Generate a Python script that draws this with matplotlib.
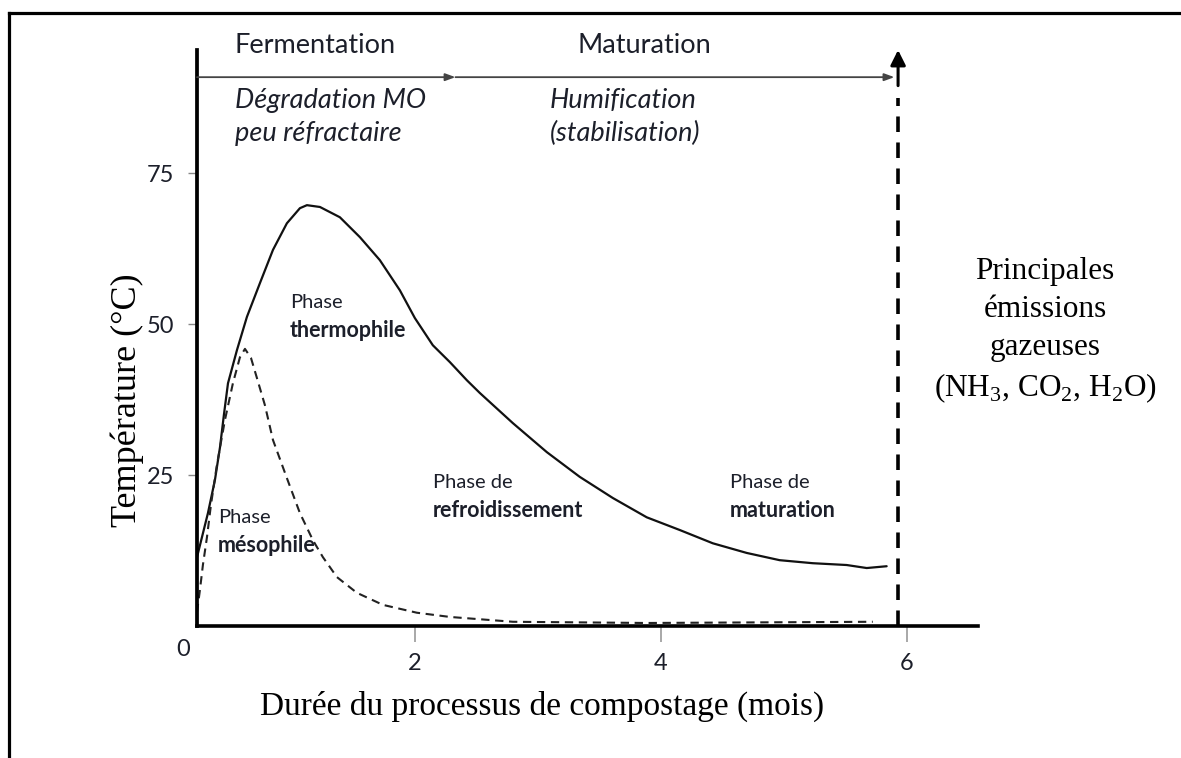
import numpy as np
import matplotlib
matplotlib.use("Agg")
import matplotlib.pyplot as plt
from matplotlib.lines import Line2D

plt.rcParams['mathtext.fontset'] = 'custom'
plt.rcParams['mathtext.rm'] = 'Liberation Serif'

# courbe pleine : phase thermophile -> maturation (mois, degC)
temp_mois = [0.228, 0.317, 0.374, 0.415, 0.447, 0.480, 0.553, 0.634, 0.740, 0.846,
             0.959, 1.065, 1.122, 1.228, 1.390, 1.553, 1.715, 1.878, 2.000, 2.146,
             2.285, 2.423, 2.528, 2.797, 3.073, 3.341, 3.610, 3.886, 4.154, 4.423,
             4.699, 4.967, 5.236, 5.512, 5.675, 5.837]
temp_val = [11.4, 18.7, 24.2, 29.6, 35.0, 40.2, 45.7, 51.2, 56.8, 62.3,
            66.7, 69.2, 69.7, 69.4, 67.7, 64.4, 60.6, 55.6, 51.0, 46.5,
            43.7, 40.7, 38.6, 33.6, 28.8, 24.7, 21.2, 18.0, 15.9, 13.7,
            12.1, 10.9, 10.4, 10.1, 9.6, 9.9]

# courbe en tirets : phase mesophile
meso_mois = [0.228, 0.252, 0.276, 0.309, 0.341, 0.390, 0.455, 0.520, 0.577, 0.618,
             0.667, 0.715, 0.780, 0.846, 0.959, 1.065, 1.171, 1.252, 1.366, 1.528,
             1.740, 2.016, 2.285, 2.797, 3.886, 5.724]
meso_val = [2.3, 6.0, 10.1, 14.7, 20.0, 26.7, 34.1, 40.2, 44.5, 45.9,
            44.4, 41.1, 36.6, 30.8, 24.5, 18.7, 14.2, 11.4, 8.1, 5.5,
            3.5, 2.2, 1.5, 0.7, 0.5, 0.7]

xticks = [2, 4, 6]
yticks = [25, 50, 75]

W, H = 1181, 758
SANS = 'Lato'
SERIF = 'Liberation Serif'
TXT = '#1c1f2a'


def fx(px):
    return px / W


def fy(py):
    return 1 - py / H


fig = plt.figure(figsize=(W / 100, H / 100), dpi=100)
ax = fig.add_axes([fx(197), fy(626), (978 - 197) / W, (626 - 50) / H])
ax.set_xlim(0.228, 6.58)
ax.set_ylim(0, 95.4)

ax.plot(temp_mois, temp_val, color='#111111', lw=1.6, solid_capstyle='round',
        solid_joinstyle='round')
ax.plot(meso_mois, meso_val, color='#222222', lw=1.5, dashes=(4, 2.7))

# fin du compostage : fleche verticale en tirets
ax.plot([5.93, 5.93], [0, 87.5], color='black', lw=2.6, dashes=(4.3, 2.9))
ax.annotate('', xy=(5.93, 95.4), xytext=(5.93, 89.5),
            arrowprops=dict(arrowstyle='-|>,head_length=0.9,head_width=0.45',
                            color='black', lw=2.2, shrinkA=0, shrinkB=0))

# fleches horizontales Fermentation / Maturation
ax.annotate('', xy=(2.33, 90.9), xytext=(0.228, 90.9),
            arrowprops=dict(arrowstyle='-|>,head_length=0.6,head_width=0.22',
                            color='#444444', lw=1.3, shrinkA=0, shrinkB=0))
ax.annotate('', xy=(5.90, 90.9), xytext=(2.33, 90.9),
            arrowprops=dict(arrowstyle='-|>,head_length=0.6,head_width=0.22',
                            color='#444444', lw=1.3, shrinkA=0, shrinkB=0))

for s in ['top', 'right']:
    ax.spines[s].set_visible(False)
ax.spines['left'].set_linewidth(2.7)
ax.spines['bottom'].set_linewidth(2.6)

ax.set_xticks(xticks)
ax.set_yticks(yticks)
ax.tick_params(axis='x', length=11.5, width=1.2, color='#999999', pad=8,
               labelsize=17, labelcolor=TXT)
ax.tick_params(axis='y', length=6.5, width=1.0, color='#888888', pad=10,
               labelsize=17, labelcolor=TXT)
for lab in ax.get_xticklabels() + ax.get_yticklabels():
    lab.set_family(SANS)
ax.text(0.114, -3.9, '0', ha='center', va='center', fontsize=17,
        family=SANS, color=TXT, clip_on=False)

# titres du haut
ax.text(0.537, 96.2, 'Fermentation', fontsize=19.5, family=SANS, color=TXT,
        va='center', clip_on=False)
ax.text(3.325, 96.2, 'Maturation', fontsize=19.5, family=SANS, color=TXT,
        va='center', clip_on=False)
ax.text(0.537, 87.1, 'Dégradation MO', fontsize=19.5, family=SANS, style='italic',
        color=TXT, va='center')
ax.text(0.537, 81.6, 'peu réfractaire', fontsize=19.5, family=SANS, style='italic',
        color=TXT, va='center')
ax.text(3.10, 87.1, 'Humification', fontsize=19.5, family=SANS, style='italic',
        color=TXT, va='center')
ax.text(3.10, 81.6, '(stabilisation)', fontsize=19.5, family=SANS, style='italic',
        color=TXT, va='center')

# noms des phases
phases = [(0.984, 53.5, 'Phase', 'thermophile'),
          (0.398, 17.9, 'Phase', 'mésophile'),
          (2.146, 23.7, 'Phase de', 'refroidissement'),
          (4.561, 23.7, 'Phase de', 'maturation')]
for x, y, l1, l2 in phases:
    ax.text(x, y, l1, fontsize=14.5, family=SANS, color=TXT, va='center')
    ax.text(x, y - 4.6, l2, fontsize=15.5, family=SANS, weight='bold',
            color=TXT, va='center')

fig.text(fx(542), fy(706), 'Durée du processus de compostage (mois)',
         fontsize=24, family=SERIF, ha='center', va='center')
fig.text(fx(127), fy(400), 'Température (°C)', fontsize=26, family=SERIF,
         rotation=90, ha='center', va='center')
fig.text(fx(1045), fy(331),
         'Principales\némissions\ngazeuses\n(NH$_3$, CO$_2$, H$_2$O)',
         fontsize=22.5, family=SERIF, ha='center', va='center',
         multialignment='center', linespacing=1.4)

# cadre
fig.add_artist(Line2D([fx(9), fx(9)], [0, fy(13)], color='black', lw=2.3))
fig.add_artist(Line2D([fx(9), 1], [fy(13), fy(13)], color='black', lw=2.3))

fig.savefig('out.png', dpi=100)
